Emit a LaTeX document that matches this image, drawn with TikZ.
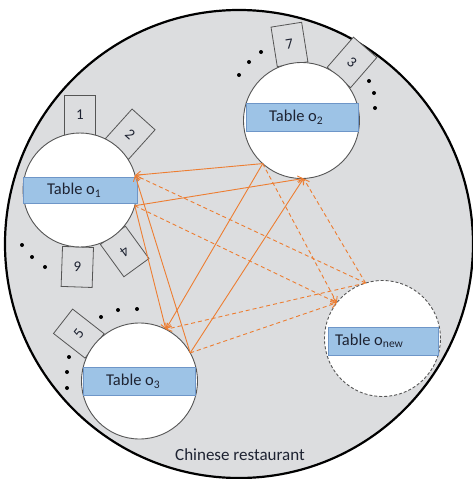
\documentclass[tikz,border=0pt]{standalone}
\usepackage{fontspec}
\setmainfont{Carlito}
\usetikzlibrary{arrows.meta,calc}
\definecolor{bg}{RGB}{220,221,223}
\definecolor{org}{RGB}{237,125,49}
\definecolor{barfill}{RGB}{157,195,230}
\definecolor{barline}{RGB}{110,150,200}
\definecolor{edge}{RGB}{85,85,85}
\definecolor{txt}{RGB}{30,35,50}
\begin{document}
\begin{tikzpicture}[x=1pt,y=-1pt,
  tablec/.style={circle, draw=edge, line width=0.9pt, fill=white, inner sep=0pt, outer sep=0pt},
  chair/.style={rectangle, draw=edge, line width=0.8pt, fill=bg, minimum width=31pt, minimum height=40pt, inner sep=0pt, font=\fontsize{15}{15}\selectfont, text=txt},
  bar/.style={rectangle, draw=barline, line width=0.7pt, fill=barfill, inner sep=0pt},
  lbl/.style={inner sep=0pt, anchor=west, font=\fontsize{16.5}{18}\selectfont, text=txt},
  solidarrow/.style={draw=org, line width=0.9pt, -{Straight Barb[length=5pt, width=7pt]}},
  dasharrow/.style={solidarrow, dash pattern=on 4pt off 3pt},
  seatdot/.style={circle, fill=black, inner sep=0pt, minimum size=4pt}
]
\useasboundingbox (0,0) rectangle (473,479);
% restaurant
\node[circle, draw=black, line width=2.2pt, fill=bg, minimum size=468pt, inner sep=0pt] (rest) at (239,244) {};
\node[font=\fontsize{17}{20}\selectfont, text=txt] (name) at (240,455) {Chinese restaurant};
% table centres
\coordinate (c1) at (80,190);
\coordinate (c2) at (301.5,120.5);
\coordinate (c3) at (139.5,381);
\coordinate (c4) at (382.5,338.5);
% chairs
\node[chair, rotate=0]    (s1) at ($(c1)+(90:75pt)$) {1};
\node[chair, rotate=-42]  (s2) at ($(c1)+(48:75pt)$) {2};
\node[chair, rotate=-144] (s4) at ($(c1)+(-54:76pt)$) {4};
\node[chair, rotate=-2]   (s9) at ($(c1)+(-92:77pt)$) {9};
\node[chair, rotate=9]    (s7) at ($(c2)+(99:77pt)$) {7};
\node[chair, rotate=-41]  (s3) at ($(c2)+(49:77pt)$) {3};
\node[chair, rotate=52]   (s5) at ($(c3)+(142:77pt)$) {5};
% tables
\node[tablec, minimum size=114pt] (o1) at (c1) {};
\node[tablec, minimum size=116pt] (o2) at (c2) {};
\node[tablec, minimum size=116pt] (o3) at (c3) {};
\node[tablec, minimum size=116pt, dash pattern=on 3pt off 2pt] (on) at (c4) {};
% bars
\node[bar, minimum width=114pt, minimum height=26pt] (b1) at (80,190) {};
\node[bar, minimum width=112pt, minimum height=28pt] (b2) at (302,117.5) {};
\node[bar, minimum width=112pt, minimum height=28pt] (b3) at (139,381.5) {};
\node[bar, minimum width=110pt, minimum height=28pt] (b4) at (383,341) {};
\node[lbl] (t1) at (47,190) {Table o\textsubscript{1}};
\node[lbl] (t2) at (269,117.5) {Table o\textsubscript{2}};
\node[lbl] (t3) at (106,381.5) {Table o\textsubscript{3}};
\node[lbl] (t4) at (335,341) {Table o\textsubscript{new}};
% dots
\foreach \p [count=\i] in {(22,245),(32,257),(45,267),(261,52),(249,62),(239,75),(369,81),(374,93),(375,108),(101,317),(118,310),(137,309),(69,357),(67,372),(67,388)}
  \node[seatdot] (d\i) at \p {};
% solid arrows among o1, o2, o3
\draw[solidarrow] (o2.-132) -- (o1.15);
\draw[solidarrow] (o1.-16) -- (o2.-88);
\draw[solidarrow] (o1.-16) -- (o3.63);
\draw[solidarrow] (o3.29) -- (o1.15);
\draw[solidarrow] (o2.-132) -- (o3.63);
\draw[solidarrow] (o3.29) -- (o2.-88);
% dashed arrows with o_new
\draw[dasharrow] (o1.-16) -- (on.142);
\draw[dasharrow] (on.107) -- (o1.15);
\draw[dasharrow] (o2.-132) -- (on.142);
\draw[dasharrow] (on.107) -- (o2.-88);
\draw[dasharrow] (o3.29) -- (on.142);
\draw[dasharrow] (on.107) -- (o3.63);
\end{tikzpicture}
\end{document}
